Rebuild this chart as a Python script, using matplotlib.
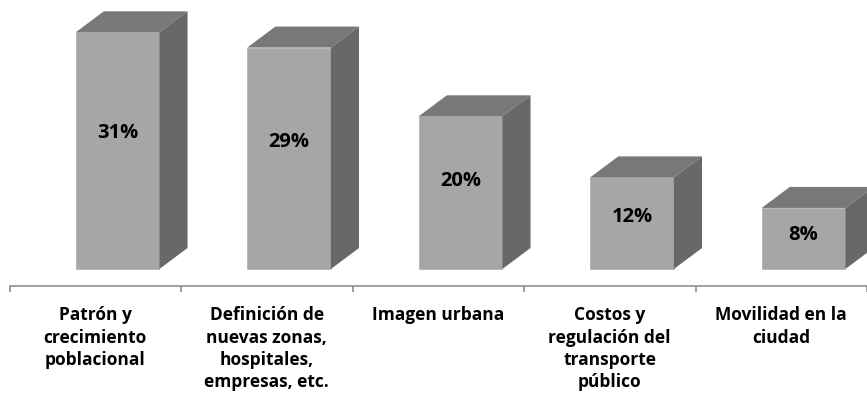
import matplotlib.pyplot as plt
from matplotlib.patches import Polygon

categories = ['Patrón y\ncrecimiento\npoblacional',
              'Definición de\nnuevas zonas,\nhospitales,\nempresas, etc.',
              'Imagen urbana',
              'Costos y\nregulación del\ntransporte\npúblico',
              'Movilidad en la\nciudad']
values = [31, 29, 20, 12, 8]
value_labels = ['31%', '29%', '20%', '12%', '8%']

plt.rcParams['font.family'] = ['Open Sans', 'DejaVu Sans']

front_color = '#a6a6a6'
top_color = '#787878'
side_color = '#686868'
axis_color = '#868686'

# 3d look: the bars sit a bit behind the axis line
shift = 0.13
width = 0.488
depth_x = 0.164
depth_y = 2.75

fig = plt.figure(figsize=(8.67, 4.02), dpi=100)
ax = fig.add_axes([9.5 / 867, 1 - 287 / 402, 1 - 9.5 / 867, 287 / 402])

xs = [i + shift for i in range(len(values))]
ax.bar(xs, values, width=width, color=front_color, edgecolor='#b4b4b4',
       linewidth=0.6, zorder=2)

for x, v, lab in zip(xs, values, value_labels):
    left = x - width / 2
    right = x + width / 2
    top = Polygon([(left, v), (right, v), (right + depth_x, v + depth_y),
                   (left + depth_x, v + depth_y)], closed=True,
                  facecolor=top_color, edgecolor='none', zorder=2)
    side = Polygon([(right, 0), (right + depth_x, depth_y),
                    (right + depth_x, v + depth_y), (right, v)], closed=True,
                   facecolor=side_color, edgecolor='none', zorder=2)
    ax.add_patch(top)
    ax.add_patch(side)
    ax.text(x, v * 0.58, lab, ha='center', va='center', fontsize=14.5,
            fontweight='bold', color='black', zorder=3)

ax.set_xlim(-0.5, -0.5 + (867 - 9.5) / 173.4)
ax.set_ylim(-17 / 7.635, 287 / 7.635 - 17 / 7.635)

ax.set_xticks([i - 0.5 for i in range(len(values) + 1)])
ax.set_xticklabels([])
ax.set_xticks(range(len(values)), minor=True)
ax.set_xticklabels(categories, minor=True, fontsize=12.5, fontweight='bold',
                   linespacing=1.3)
ax.tick_params(axis='x', which='major', direction='out', length=4.5,
               width=1.1, color=axis_color)
ax.tick_params(axis='x', which='minor', length=0, pad=14)
ax.set_yticks([])

for s in ['top', 'right', 'left']:
    ax.spines[s].set_visible(False)
ax.spines['bottom'].set_color(axis_color)
ax.spines['bottom'].set_linewidth(1.1)

fig.savefig('out.png', dpi=100)
